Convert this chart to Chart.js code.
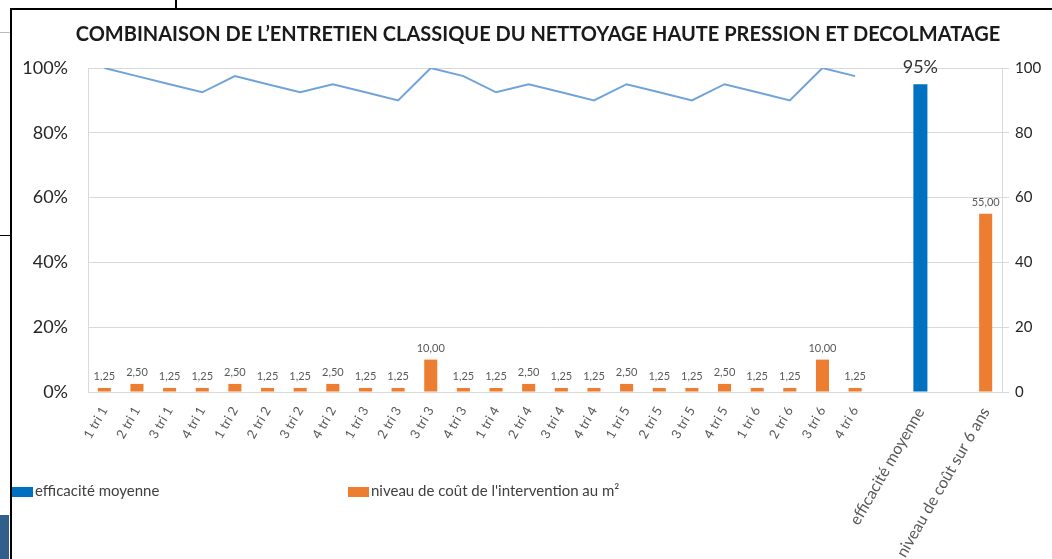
<!DOCTYPE html>
<html>
<head>
<meta charset="utf-8">
<script src="https://cdn.jsdelivr.net/npm/chart.js@4.4.1/dist/chart.umd.min.js"></script>
<style>
  html, body { margin: 0; padding: 0; background: #fff; overflow: hidden; }
  #wrap { position: relative; width: 1052px; height: 559px; }
  #chart { position: absolute; left: 0; top: 0; }
  .line { position: absolute; background: #000; }
  .title { position: absolute; left: 0; top: 20px; width: 1076px; text-align: center; line-height: 26px;
           font-family: Lato, "Open Sans", sans-serif; font-weight: bold; font-size: 20px; color: #1a1a1a; white-space: nowrap; }
  .legend { position: absolute; top: 481px; font-family: Lato, "Open Sans", sans-serif; font-size: 15px; color: #404040; white-space: nowrap; }
  .legend span { display: inline-block; width: 21px; height: 10px; margin-right: 2px; vertical-align: -1px; }
</style>
</head>
<body>
<div id="wrap">
  <canvas id="chart" width="1052" height="559"></canvas>
  <div class="title">COMBINAISON DE L’ENTRETIEN CLASSIQUE DU NETTOYAGE HAUTE PRESSION ET DECOLMATAGE</div>
  <div class="line" style="left:10px; top:9px; width:2px; height:550px;"></div>
  <div class="line" style="left:10px; top:8px; width:1042px; height:2px;"></div>
  <div class="line" style="left:175px; top:0; width:2px; height:9px;"></div>
  <div class="line" style="left:0; top:32px; width:10px; height:1px; background:#bbb;"></div>
  <div class="line" style="left:0; top:235px; width:10px; height:1px;"></div>
  <div class="line" style="left:0; top:515px; width:9px; height:44px; background:#2f5f8a;"></div>
  <div class="legend" style="left:12px;"><span style="background:#0070C0"></span>efficacité moyenne</div>
  <div class="legend" style="left:348px;"><span style="background:#ED7D31"></span>niveau de coût de l'intervention au m²</div>
</div>
<script>
// categories (two empty slots keep the gaps before the summary bars)
var categories = [
  '1 tri 1', '2 tri 1', '3 tri 1', '4 tri 1',
  '1 tri 2', '2 tri 2', '3 tri 2', '4 tri 2',
  '1 tri 3', '2 tri 3', '3 tri 3', '4 tri 3',
  '1 tri 4', '2 tri 4', '3 tri 4', '4 tri 4',
  '1 tri 5', '2 tri 5', '3 tri 5', '4 tri 5',
  '1 tri 6', '2 tri 6', '3 tri 6', '4 tri 6',
  '', 'efficacité moyenne', '', 'niveau de coût sur 6 ans'
];

// efficacité par trimestre (%)
var efficaciteTrimestre = [
  100, 97.5, 95, 92.5, 97.5, 95, 92.5, 95, 92.5, 90, 100, 97.5,
  92.5, 95, 92.5, 90, 95, 92.5, 90, 95, 92.5, 90, 100, 97.5,
  null, null, null, null
];

// efficacité moyenne (%)
var efficaciteMoyenne = [
  null, null, null, null, null, null, null, null, null, null, null, null,
  null, null, null, null, null, null, null, null, null, null, null, null,
  null, 95, null, null
];

// niveau de coût de l'intervention au m²
var coutIntervention = [
  1.25, 2.5, 1.25, 1.25, 2.5, 1.25, 1.25, 2.5, 1.25, 1.25, 10, 1.25,
  1.25, 2.5, 1.25, 1.25, 2.5, 1.25, 1.25, 2.5, 1.25, 1.25, 10, 1.25,
  null, null, null, 55
];

var leftTicks = [0, 20, 40, 60, 80, 100];
var rightTicks = [0, 20, 40, 60, 80, 100];

var FONT = 'Lato, "Open Sans", sans-serif';

// etiquettes au-dessus des barres
var valueLabels = {
  id: 'valueLabels',
  afterDatasetsDraw: function(chart) {
    var ctx = chart.ctx;
    ctx.save();
    ctx.textAlign = 'center';
    ctx.textBaseline = 'bottom';
    chart.data.datasets.forEach(function(ds, i) {
      if (ds.type !== 'bar') return;
      var meta = chart.getDatasetMeta(i);
      meta.data.forEach(function(bar, j) {
        var v = ds.data[j];
        if (v == null) return;
        if (ds.yAxisID === 'y') {
          ctx.font = '18px ' + FONT;
          ctx.fillStyle = '#333333';
          ctx.fillText(v + '%', bar.x, bar.y - 8);
        } else {
          ctx.font = '11px ' + FONT;
          ctx.fillStyle = '#595959';
          ctx.fillText(v.toFixed(2).replace('.', ','), bar.x, bar.y - 6);
        }
      });
    });
    ctx.restore();
  }
};

var ctx = document.getElementById('chart');
var chart = new Chart(ctx, {
  data: {
    labels: categories,
    datasets: [
      {
        type: 'line',
        label: 'efficacité',
        data: efficaciteTrimestre,
        yAxisID: 'y',
        borderColor: '#6FA3DA',
        borderWidth: 2,
        pointRadius: 0,
        tension: 0,
        spanGaps: false
      },
      {
        type: 'bar',
        label: 'efficacité moyenne',
        data: efficaciteMoyenne,
        yAxisID: 'y',
        backgroundColor: '#0070C0',
        grouped: false,
        barPercentage: 0.43,
        categoryPercentage: 1
      },
      {
        type: 'bar',
        label: "niveau de coût de l'intervention au m²",
        data: coutIntervention,
        yAxisID: 'y1',
        backgroundColor: '#ED7D31',
        grouped: false,
        barPercentage: 0.4,
        categoryPercentage: 1
      }
    ]
  },
  options: {
    responsive: false,
    animation: false,
    layout: { padding: { top: 68, left: 0, right: 0, bottom: 0 } },
    plugins: {
      legend: { display: false },
      tooltip: { enabled: false },
      title: { display: false }
    },
    scales: {
      x: {
        grid: { display: false },
        border: { display: true, color: '#d9d9d9' },
        ticks: {
          autoSkip: false,
          minRotation: 60,
          maxRotation: 60,
          color: '#595959',
          padding: 4,
          font: function(c) {
            var lbl = categories[c.index] || '';
            return { family: FONT, size: lbl.length > 10 ? 16 : 13 };
          }
        },
        afterFit: function(scale) { scale.height = 167; }
      },
      y: {
        position: 'left',
        min: 0,
        max: 100,
        afterBuildTicks: function(scale) {
          scale.ticks = leftTicks.map(function(v) { return { value: v }; });
        },
        grid: { color: '#d9d9d9', drawTicks: false },
        border: { display: true, color: '#d9d9d9' },
        ticks: {
          color: '#262626',
          padding: 20,
          font: { family: FONT, size: 18 },
          callback: function(v) { return v + '%'; }
        },
        afterFit: function(scale) { scale.width = 88; }
      },
      y1: {
        position: 'right',
        min: 0,
        max: 100,
        afterBuildTicks: function(scale) {
          scale.ticks = rightTicks.map(function(v) { return { value: v }; });
        },
        grid: { drawOnChartArea: false, drawTicks: true, tickLength: 7, color: '#d9d9d9' },
        border: { display: true, color: '#d9d9d9' },
        ticks: {
          color: '#262626',
          padding: 6,
          font: { family: FONT, size: 15 }
        },
        afterFit: function(scale) { scale.width = 50; }
      }
    }
  },
  plugins: [valueLabels]
});
</script>
</body>
</html>
